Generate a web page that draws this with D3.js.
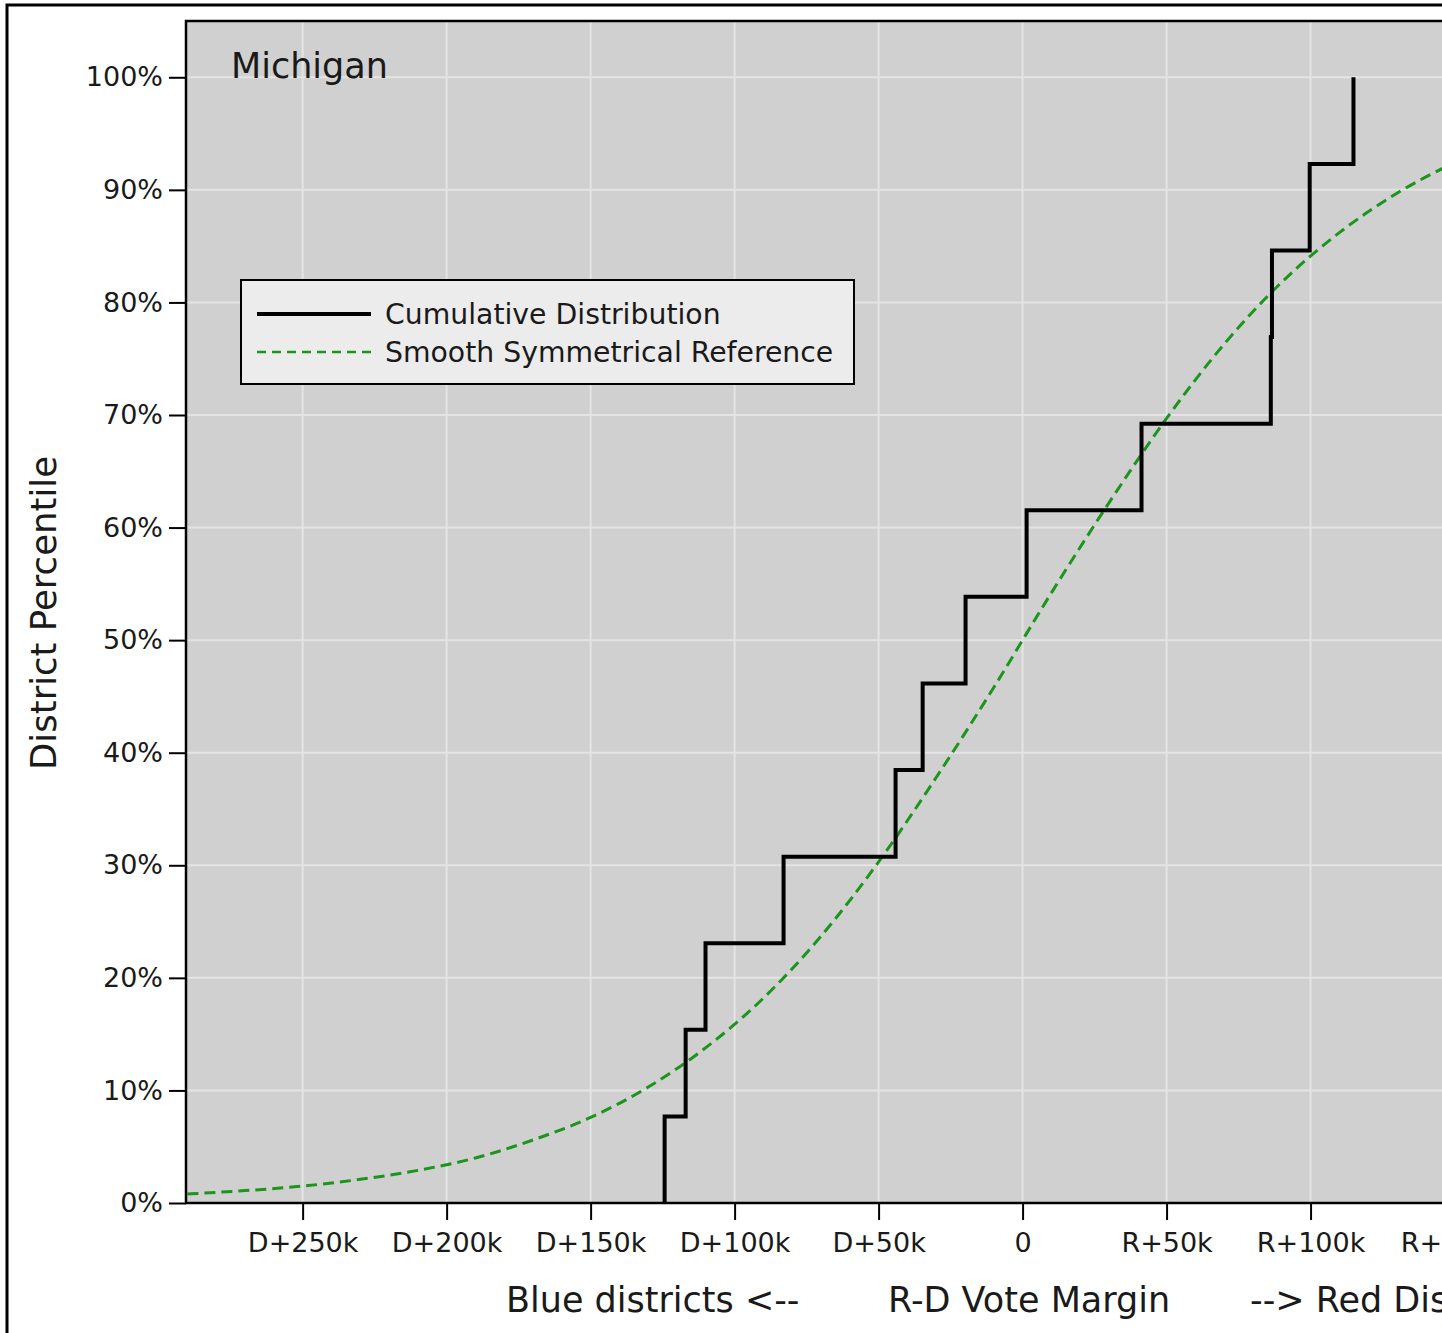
<!DOCTYPE html>
<html>
<head>
<meta charset="utf-8">
<script src="https://cdn.jsdelivr.net/npm/d3@7"></script>
<style>
  html, body { margin: 0; padding: 0; background: #fff; overflow: hidden; }
  svg { display: block; font-family: "DejaVu Sans", sans-serif; }
</style>
</head>
<body>
<svg id="chart" width="1442" height="1333"></svg>
<script>
// District R-D vote margins (thousands of votes), sorted ascending
const districtMargins = [-124.3, -117.0, -110.1, -83.0, -44.1, -34.7, -19.8, 1.4, 41.3, 86.2, 86.6, 99.7, 114.9];

// Smooth symmetrical reference curve: margin (k) and cumulative percentile
const refMargins = [-290, -270, -250, -230, -210, -190, -170, -150, -130, -110, -90, -70, -50, -30, -10,
                    10, 30, 50, 70, 90, 110, 130, 150, 170, 190, 210, 230, 250, 270, 290];
const refPercent = [0.8, 1.1, 1.5, 2.1, 2.9, 4.0, 5.6, 7.6, 10.3, 13.8, 18.2, 23.7, 30.3, 37.8, 45.8,
                    54.2, 62.2, 69.7, 76.3, 81.8, 86.2, 89.7, 92.4, 94.4, 96.0, 97.1, 97.9, 98.5, 98.9, 99.2];

// Axis ticks
const xTickValues = [-250, -200, -150, -100, -50, 0, 50, 100, 150];
const xTickLabels = ["D+250k", "D+200k", "D+150k", "D+100k", "D+50k", "0", "R+50k", "R+100k", "R+150k"];
const yTickValues = [0, 10, 20, 30, 40, 50, 60, 70, 80, 90, 100];
const yTickLabels = ["0%", "10%", "20%", "30%", "40%", "50%", "60%", "70%", "80%", "90%", "100%"];

const seriesNames = ["Cumulative Distribution", "Smooth Symmetrical Reference"];
const stateName = "Michigan";

const svg = d3.select("#chart");

// Figure frame
const plot = { left: 186, top: 21, right: 1875, bottom: 1203 };

svg.append("rect")
  .attr("x", 7).attr("y", 5)
  .attr("width", 2000).attr("height", 2000)
  .attr("fill", "#fff")
  .attr("stroke", "#000").attr("stroke-width", 3);

const x = d3.scaleLinear().domain([-290.5, 296]).range([plot.left, plot.right]);
const y = d3.scaleLinear().domain([0, 105]).range([plot.bottom, plot.top]);

// Plot background
svg.append("rect")
  .attr("x", plot.left).attr("y", plot.top)
  .attr("width", plot.right - plot.left).attr("height", plot.bottom - plot.top)
  .attr("fill", "#d0d0d0");

svg.append("clipPath").attr("id", "plotClip")
  .append("rect")
  .attr("x", plot.left).attr("y", plot.top)
  .attr("width", plot.right - plot.left).attr("height", plot.bottom - plot.top);

// Grid lines
const grid = svg.append("g").attr("clip-path", "url(#plotClip)");
grid.selectAll("line.gx").data(xTickValues).join("line")
  .attr("class", "gx")
  .attr("x1", d => x(d)).attr("x2", d => x(d))
  .attr("y1", plot.top).attr("y2", plot.bottom)
  .attr("stroke", "#e4e4e4").attr("stroke-width", 2);
grid.selectAll("line.gy").data(yTickValues).join("line")
  .attr("class", "gy")
  .attr("x1", plot.left).attr("x2", plot.right)
  .attr("y1", d => y(d)).attr("y2", d => y(d))
  .attr("stroke", "#e4e4e4").attr("stroke-width", 2);

// Reference curve
const marks = svg.append("g").attr("clip-path", "url(#plotClip)");
const refData = refMargins.map((m, i) => [m, refPercent[i]]);
marks.append("path")
  .datum(refData)
  .attr("fill", "none")
  .attr("stroke", "#1b951b")
  .attr("stroke-width", 3)
  .attr("stroke-dasharray", "11,6")
  .attr("d", d3.line().x(d => x(d[0])).y(d => y(d[1])).curve(d3.curveMonotoneX));

// Empirical cumulative distribution (step line)
const n = districtMargins.length;
const stepData = [[districtMargins[0], 0]];
districtMargins.forEach((m, i) => stepData.push([m, (i + 1) / n * 100]));
marks.append("path")
  .datum(stepData)
  .attr("fill", "none")
  .attr("stroke", "#000")
  .attr("stroke-width", 4)
  .attr("stroke-linejoin", "miter")
  .attr("d", d3.line().x(d => x(d[0])).y(d => y(d[1])).curve(d3.curveStepAfter));

// Axes
const xAxis = d3.axisBottom(x)
  .tickValues(xTickValues)
  .tickFormat((d, i) => xTickLabels[i])
  .tickSize(17).tickPadding(11);
const gx = svg.append("g").attr("transform", `translate(0,${plot.bottom})`).call(xAxis);
gx.select(".domain").remove();
gx.selectAll(".tick line").attr("stroke", "#000").attr("stroke-width", 2);
gx.selectAll(".tick text")
  .attr("fill", "#1a1a1a")
  .attr("font-size", 27)
  .attr("font-family", "DejaVu Sans")
  .attr("dy", "0.78em");

const yAxis = d3.axisLeft(y)
  .tickValues(yTickValues)
  .tickFormat((d, i) => yTickLabels[i])
  .tickSize(17).tickPadding(6);
const gy = svg.append("g").attr("transform", `translate(${plot.left},0)`).call(yAxis);
gy.select(".domain").remove();
gy.selectAll(".tick line").attr("stroke", "#000").attr("stroke-width", 2);
gy.selectAll(".tick text")
  .attr("fill", "#1a1a1a")
  .attr("font-size", 27)
  .attr("font-family", "DejaVu Sans");

// Plot border (left, top, bottom)
svg.append("path")
  .attr("d", `M${plot.right},${plot.top}H${plot.left}V${plot.bottom}H${plot.right}`)
  .attr("fill", "none").attr("stroke", "#000").attr("stroke-width", 2.5);

// State name
svg.append("text")
  .attr("x", 231).attr("y", 78)
  .attr("font-size", 35).attr("fill", "#1a1a1a")
  .text(stateName);

// Axis titles
svg.append("text")
  .attr("transform", "translate(56,613) rotate(-90)")
  .attr("text-anchor", "middle")
  .attr("font-size", 35.5).attr("fill", "#1a1a1a")
  .text("District Percentile");

const xTitle = svg.append("text")
  .attr("y", 1312)
  .attr("font-size", 35).attr("fill", "#1a1a1a");
xTitle.append("tspan").attr("x", 506).text("Blue districts <--");
xTitle.append("tspan").attr("x", 888).text("R-D Vote Margin");
xTitle.append("tspan").attr("x", 1250).text("--> Red Districts");

// Legend
const legend = svg.append("g");
legend.append("rect")
  .attr("x", 241).attr("y", 280).attr("width", 613).attr("height", 104)
  .attr("fill", "#ececec").attr("stroke", "#000").attr("stroke-width", 2);
const legendStyles = [
  { stroke: "#000", width: 4, dash: null },
  { stroke: "#1b951b", width: 2.5, dash: "9,6" }
];
seriesNames.forEach((name, i) => {
  const cy = 314 + i * 38;
  legend.append("line")
    .attr("x1", 257).attr("x2", 371).attr("y1", cy).attr("y2", cy)
    .attr("stroke", legendStyles[i].stroke)
    .attr("stroke-width", legendStyles[i].width)
    .attr("stroke-dasharray", legendStyles[i].dash);
  legend.append("text")
    .attr("x", 385).attr("y", cy).attr("dy", "0.36em")
    .attr("font-size", 28.3).attr("fill", "#1a1a1a")
    .text(name);
});
</script>
</body>
</html>
